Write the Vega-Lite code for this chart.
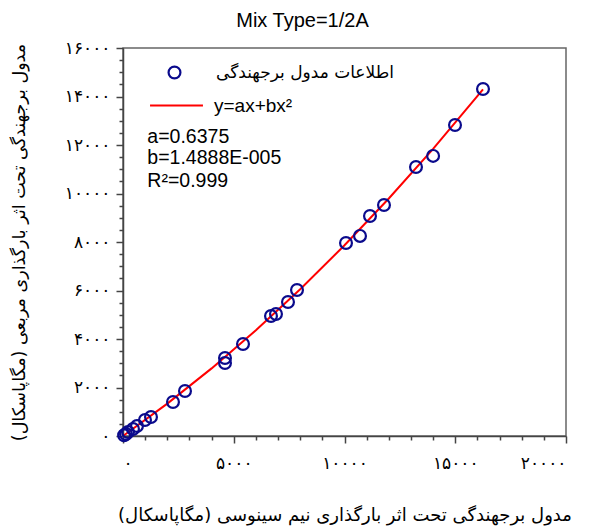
{
  "$schema": "https://vega.github.io/schema/vega-lite/v6.json",
  "width": 443,
  "height": 388,
  "autosize": "none",
  "padding": {"left": 123, "top": 48, "right": 24, "bottom": 91},
  "background": "white",
  "title": {"text": "Mix Type=1/2A", "font": "Liberation Sans", "fontSize": 20, "fontWeight": "normal", "color": "#000", "offset": 8, "anchor": "middle", "dx": -42},
  "config": {
    "view": {"stroke": "#666", "strokeWidth": 1.5},
    "axis": {"grid": false, "domainColor": "#444", "tickColor": "#444", "domainWidth": 1.5, "tickWidth": 1.5}
  },
  "datasets": {
    "points": [
      {"x": 16253, "y": 14309},
      {"x": 14989, "y": 12825},
      {"x": 14000, "y": 11550},
      {"x": 13228, "y": 11093},
      {"x": 11783, "y": 9526},
      {"x": 11151, "y": 9072},
      {"x": 10700, "y": 8250},
      {"x": 10068, "y": 7959},
      {"x": 7856, "y": 6021},
      {"x": 7449, "y": 5526},
      {"x": 6907, "y": 5031},
      {"x": 6682, "y": 4948},
      {"x": 5418, "y": 3794},
      {"x": 4605, "y": 3216},
      {"x": 4605, "y": 3010},
      {"x": 2799, "y": 1856},
      {"x": 2257, "y": 1402},
      {"x": 1264, "y": 784},
      {"x": 993, "y": 660},
      {"x": 632, "y": 412},
      {"x": 451, "y": 289},
      {"x": 226, "y": 165},
      {"x": 135, "y": 82},
      {"x": 50, "y": 30}
    ],
    "fit": [
      {"x": 0, "y": 0},
      {"x": 2000, "y": 1335},
      {"x": 4000, "y": 2788},
      {"x": 6000, "y": 4361},
      {"x": 8000, "y": 6053},
      {"x": 10000, "y": 7864},
      {"x": 12000, "y": 9794},
      {"x": 14000, "y": 11843},
      {"x": 16253, "y": 14294}
    ],
    "notes": [
      {"x": 1100, "y": 12330, "label": "a=0.6375"},
      {"x": 1100, "y": 11464, "label": "b=1.4888E-005"},
      {"x": 1100, "y": 10515, "label": "R²=0.999"}
    ]
  },
  "resolve": {"axis": {"x": "independent", "y": "independent"}},
  "layer": [
    {
      "data": {"name": "fit"},
      "mark": {"type": "line", "strokeWidth": 2},
      "encoding": {
        "x": {"field": "x", "type": "quantitative", "scale": {"domain": [0, 20000], "nice": false},
          "axis": {"orient": "bottom", "values": [1000,2000,3000,4000,6000,7000,8000,9000,11000,12000,13000,14000,16000,17000,18000,19000], "labels": false, "domain": false, "tickSize": 4, "title": null}},
        "y": {"field": "y", "type": "quantitative", "scale": {"domain": [0, 16000], "nice": false},
          "axis": {"orient": "left", "values": [500,1000,1500,2500,3000,3500,4500,5000,5500,6500,7000,7500,8500,9000,9500,10500,11000,11500,12500,13000,13500,14500,15000,15500], "labels": false, "domain": false, "tickSize": 4, "title": null}},
        "color": {"datum": "y=ax+bx²", "scale": {"range": ["#FF0000"]},
          "legend": {"orient": "none", "legendX": 26, "legendY": 30, "title": null, "symbolType": "stroke", "symbolSize": 2800, "symbolStrokeWidth": 2, "labelFont": "Liberation Sans", "labelFontSize": 19, "labelColor": "#000", "labelOffset": 10, "labelLimit": 0}}
      }
    },
    {
      "data": {"name": "points"},
      "mark": {"type": "point", "filled": false, "color": "#0A0A8C", "strokeWidth": 2.2, "size": 140, "opacity": 1},
      "encoding": {
        "x": {"field": "x", "type": "quantitative",
          "axis": {"orient": "bottom", "values": [0, 5000, 10000, 15000, 20000], "format": "d", "tickSize": 7, "labelPadding": 12, "labelFont": "DejaVu Sans", "labelFontSize": 17, "labelColor": "#000",
            "labelExpr": "join(split(join(split(join(split(join(split(join(split(join(split(join(split(join(split(join(split(join(split(datum.label,'0'),'۰'),'1'),'۱'),'2'),'۲'),'3'),'۳'),'4'),'۴'),'5'),'۵'),'6'),'۶'),'7'),'۷'),'8'),'۸'),'9'),'۹')",
            "title": "مدول برجهندگی تحت اثر بارگذاری نیم سینوسی (مگاپاسکال)", "titleFont": "DejaVu Sans", "titleFontSize": 18, "titleFontWeight": "normal", "titleColor": "#000", "titlePadding": 35}},
        "y": {"field": "y", "type": "quantitative",
          "axis": {"orient": "left", "values": [0, 2000, 4000, 6000, 8000, 10000, 12000, 14000, 16000], "format": "d", "tickSize": 7, "labelPadding": 6, "labelFont": "DejaVu Sans", "labelFontSize": 17, "labelColor": "#000",
            "labelExpr": "join(split(join(split(join(split(join(split(join(split(join(split(join(split(join(split(join(split(join(split(datum.label,'0'),'۰'),'1'),'۱'),'2'),'۲'),'3'),'۳'),'4'),'۴'),'5'),'۵'),'6'),'۶'),'7'),'۷'),'8'),'۸'),'9'),'۹')",
            "title": "مدول برجهندگی تحت اثر بارگذاری مربعی (مگاپاسکال)", "titleFont": "DejaVu Sans", "titleFontSize": 17.5, "titleFontWeight": "normal", "titleColor": "#000", "titlePadding": 36}},
        "shape": {"datum": "اطلاعات مدول برجهندگی", "scale": {"range": ["circle"]},
          "legend": {"orient": "none", "legendX": 43, "legendY": 16, "title": null, "symbolSize": 140, "symbolStrokeColor": "#0A0A8C", "symbolFillColor": "transparent", "symbolStrokeWidth": 2.2, "labelFont": "DejaVu Sans", "labelFontSize": 17, "labelColor": "#000", "labelOffset": 33, "labelLimit": 0}}
      }
    },
    {
      "data": {"name": "notes"},
      "mark": {"type": "text", "align": "left", "baseline": "middle", "font": "Liberation Sans", "fontSize": 19.5, "color": "#000"},
      "encoding": {
        "x": {"field": "x", "type": "quantitative", "axis": null},
        "y": {"field": "y", "type": "quantitative", "axis": null},
        "text": {"field": "label"}
      }
    }
  ]
}
